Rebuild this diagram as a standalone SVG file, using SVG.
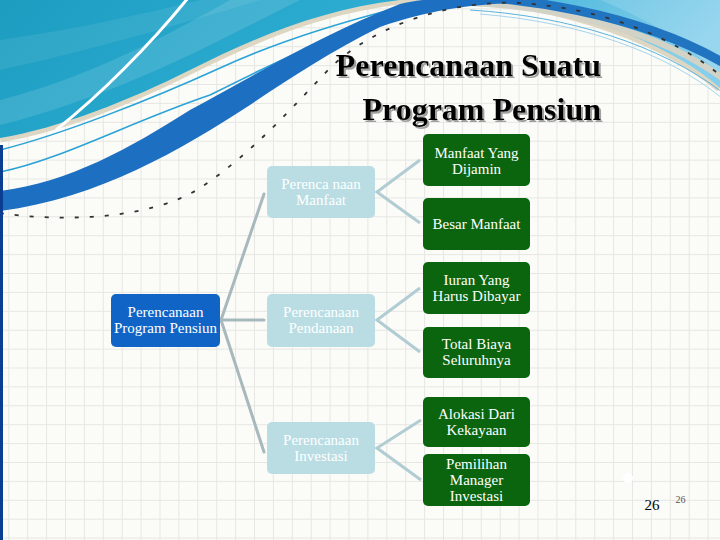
<svg xmlns="http://www.w3.org/2000/svg" width="720" height="540" viewBox="0 0 720 540">
<defs>
<pattern id="grid" x="8.3" y="8.4" width="18.9" height="18.9" patternUnits="userSpaceOnUse">
<path d="M0.5,0 V18.9 M0,0.5 H18.9" fill="none" stroke="#e6e6e2" stroke-width="1"/>
</pattern>
<linearGradient id="cy" x1="0" y1="0" x2="1" y2="0.2">
<stop offset="0" stop-color="#1c9dc0"/>
<stop offset="0.55" stop-color="#2fadd3"/>
<stop offset="1" stop-color="#86cfec"/>
</linearGradient>
<filter id="shadow" x="-5%" y="-20%" width="110%" height="140%">
<feDropShadow dx="2" dy="2" stdDeviation="0.7" flood-color="#8a8a8a" flood-opacity="0.8"/>
</filter>
<style>
.n { font-family: "Liberation Serif", "Times New Roman", serif; font-size: 15px; fill: #ffffff; text-anchor: middle; }
.green rect { fill: #0b650e; }
.light rect { fill: #b9dde3; }
.root rect { fill: #0f64c6; }
.conn { fill: none; stroke: #a8b9be; stroke-width: 3; stroke-linecap: round; }
.chev { fill: none; stroke: #b1ccd3; stroke-width: 3; stroke-linejoin: miter; }
.title { font-family: "Liberation Serif", "Times New Roman", serif; font-size: 32px; font-weight: bold; text-anchor: end; fill: #000000; }
</style>
</defs>

<!-- background -->
<rect x="0" y="0" width="720" height="540" fill="#fbfbf8"/>
<rect x="0" y="0" width="720" height="540" fill="url(#grid)"/>

<!-- decoration -->
<g id="decoration">
<path d="M0,138 C60,128 130,100 190,70 C260,35 330,5 420,-2 C540,-6 660,35 720,88" fill="none" stroke="#ddd6c3" stroke-width="9"/>
<path d="M0,0 H720 V88 C660,35 540,-6 420,-2 C330,5 260,35 190,70 C130,100 60,128 0,138 Z" fill="url(#cy)"/>
<path d="M0,100 C80,80 160,40 230,0 L300,0 C220,40 120,95 0,125 Z" fill="#ffffff" opacity="0.12"/>
<path d="M0,40 C70,30 140,15 200,0 L260,0 C180,25 90,50 0,70 Z" fill="#ffffff" opacity="0.08"/>
<path d="M56,130 C100,95 150,45 188,-2" fill="none" stroke="#ffffff" stroke-width="3"/>
<path d="M600,0 C650,20 690,45 720,75 V0 Z" fill="#ffffff" opacity="0.15"/>
<path d="M0,150 C60,135 150,100 220,68 C270,45 320,28 390,10" fill="none" stroke="#2aa3d6" stroke-width="1.6"/>
<path d="M0,172 C60,160 130,122 210,95 C270,65 330,35 400,12" fill="none" stroke="#2aa3d6" stroke-width="1.6"/>
<path d="M470,10 C570,16 660,45 722,92" fill="none" stroke="#5ab4e0" stroke-width="1"/>
<path d="M480,14 C580,22 665,52 722,98" fill="none" stroke="#a5d5ee" stroke-width="1"/>
<path d="M470,3 C560,7 660,32 722,78" fill="none" stroke="#d3d2c6" stroke-width="6"/>
<path d="M420,-5 C520,-6 640,15 722,62" fill="none" stroke="#2174c0" stroke-width="9"/>
<path d="M0,191 C70,182 130,148 190,110 C250,78 320,35 400,4 C430,-3 470,-4 520,-3 L520,3 C470,4 430,10 380,27 C330,52 290,78 250,105 C180,150 100,198 0,211 Z" fill="#1c6fc1"/>
<path d="M0,213 C60,222 150,220 200,188 C250,155 290,110 330,68 C380,20 460,0 520,3 C600,8 670,35 720,75" fill="none" stroke="#333333" stroke-width="1.8" stroke-dasharray="4 11"/>
<rect x="0" y="145" width="3" height="395" fill="#0b3d91"/>
<circle cx="628" cy="478" r="5" fill="#ffffff"/>
</g>

<!-- title -->
<g id="title" filter="url(#shadow)">
<text class="title" x="601" y="76">Perencanaan Suatu</text>
<text class="title" x="601" y="120">Program Pensiun</text>
</g>

<!-- connectors -->
<g id="connectors">
<path class="conn" d="M221,320 L264,194"/>
<path class="conn" d="M221,320 L264,320"/>
<path class="conn" d="M221,320 L264,452"/>
<path class="chev" d="M420,160 L377,192 L420,223"/>
<path class="chev" d="M420,288 L377,320 L420,352"/>
<path class="chev" d="M421,420 L377,448 L421,480"/>
</g>

<!-- nodes -->
<g id="node-root" class="root">
<rect x="111" y="294" width="109" height="53" rx="5"/>
<text class="n" x="165.5" y="317">Perencanaan</text>
<text class="n" x="165.5" y="333">Program Pensiun</text>
</g>
<g id="node-manfaat" class="light">
<rect x="267" y="166" width="108" height="52" rx="5"/>
<text class="n" x="321" y="189">Perenca naan</text>
<text class="n" x="321" y="205">Manfaat</text>
</g>
<g id="node-pendanaan" class="light">
<rect x="267" y="294" width="108" height="53" rx="5"/>
<text class="n" x="321" y="317">Perencanaan</text>
<text class="n" x="321" y="333">Pendanaan</text>
</g>
<g id="node-investasi" class="light">
<rect x="267" y="422" width="108" height="52" rx="5"/>
<text class="n" x="321" y="445">Perencanaan</text>
<text class="n" x="321" y="461">Investasi</text>
</g>
<g id="node-dijamin" class="green">
<rect x="423" y="134" width="107" height="52" rx="5"/>
<text class="n" x="476.5" y="158">Manfaat Yang</text>
<text class="n" x="476.5" y="174">Dijamin</text>
</g>
<g id="node-besar" class="green">
<rect x="423" y="198" width="107" height="52" rx="5"/>
<text class="n" x="476.5" y="229">Besar Manfaat</text>
</g>
<g id="node-iuran" class="green">
<rect x="423" y="262" width="107" height="52" rx="5"/>
<text class="n" x="476.5" y="285">Iuran Yang</text>
<text class="n" x="476.5" y="301">Harus Dibayar</text>
</g>
<g id="node-total" class="green">
<rect x="423" y="327" width="107" height="51" rx="5"/>
<text class="n" x="476.5" y="349">Total Biaya</text>
<text class="n" x="476.5" y="365">Seluruhnya</text>
</g>
<g id="node-alokasi" class="green">
<rect x="423" y="397" width="107" height="50" rx="5"/>
<text class="n" x="476.5" y="419">Alokasi Dari</text>
<text class="n" x="476.5" y="435">Kekayaan</text>
</g>
<g id="node-pemilihan" class="green">
<rect x="423" y="454" width="107" height="52" rx="5"/>
<text class="n" x="476.5" y="469">Pemilihan</text>
<text class="n" x="476.5" y="485">Manager</text>
<text class="n" x="476.5" y="501">Investasi</text>
</g>

<!-- page numbers -->
<g id="page-number">
<text x="652" y="510" font-family="Liberation Serif, serif" font-size="15" fill="#000000" text-anchor="middle">26</text>
<text x="680.5" y="503" font-family="Liberation Serif, serif" font-size="10" fill="#555555" text-anchor="middle">26</text>
</g>
</svg>
